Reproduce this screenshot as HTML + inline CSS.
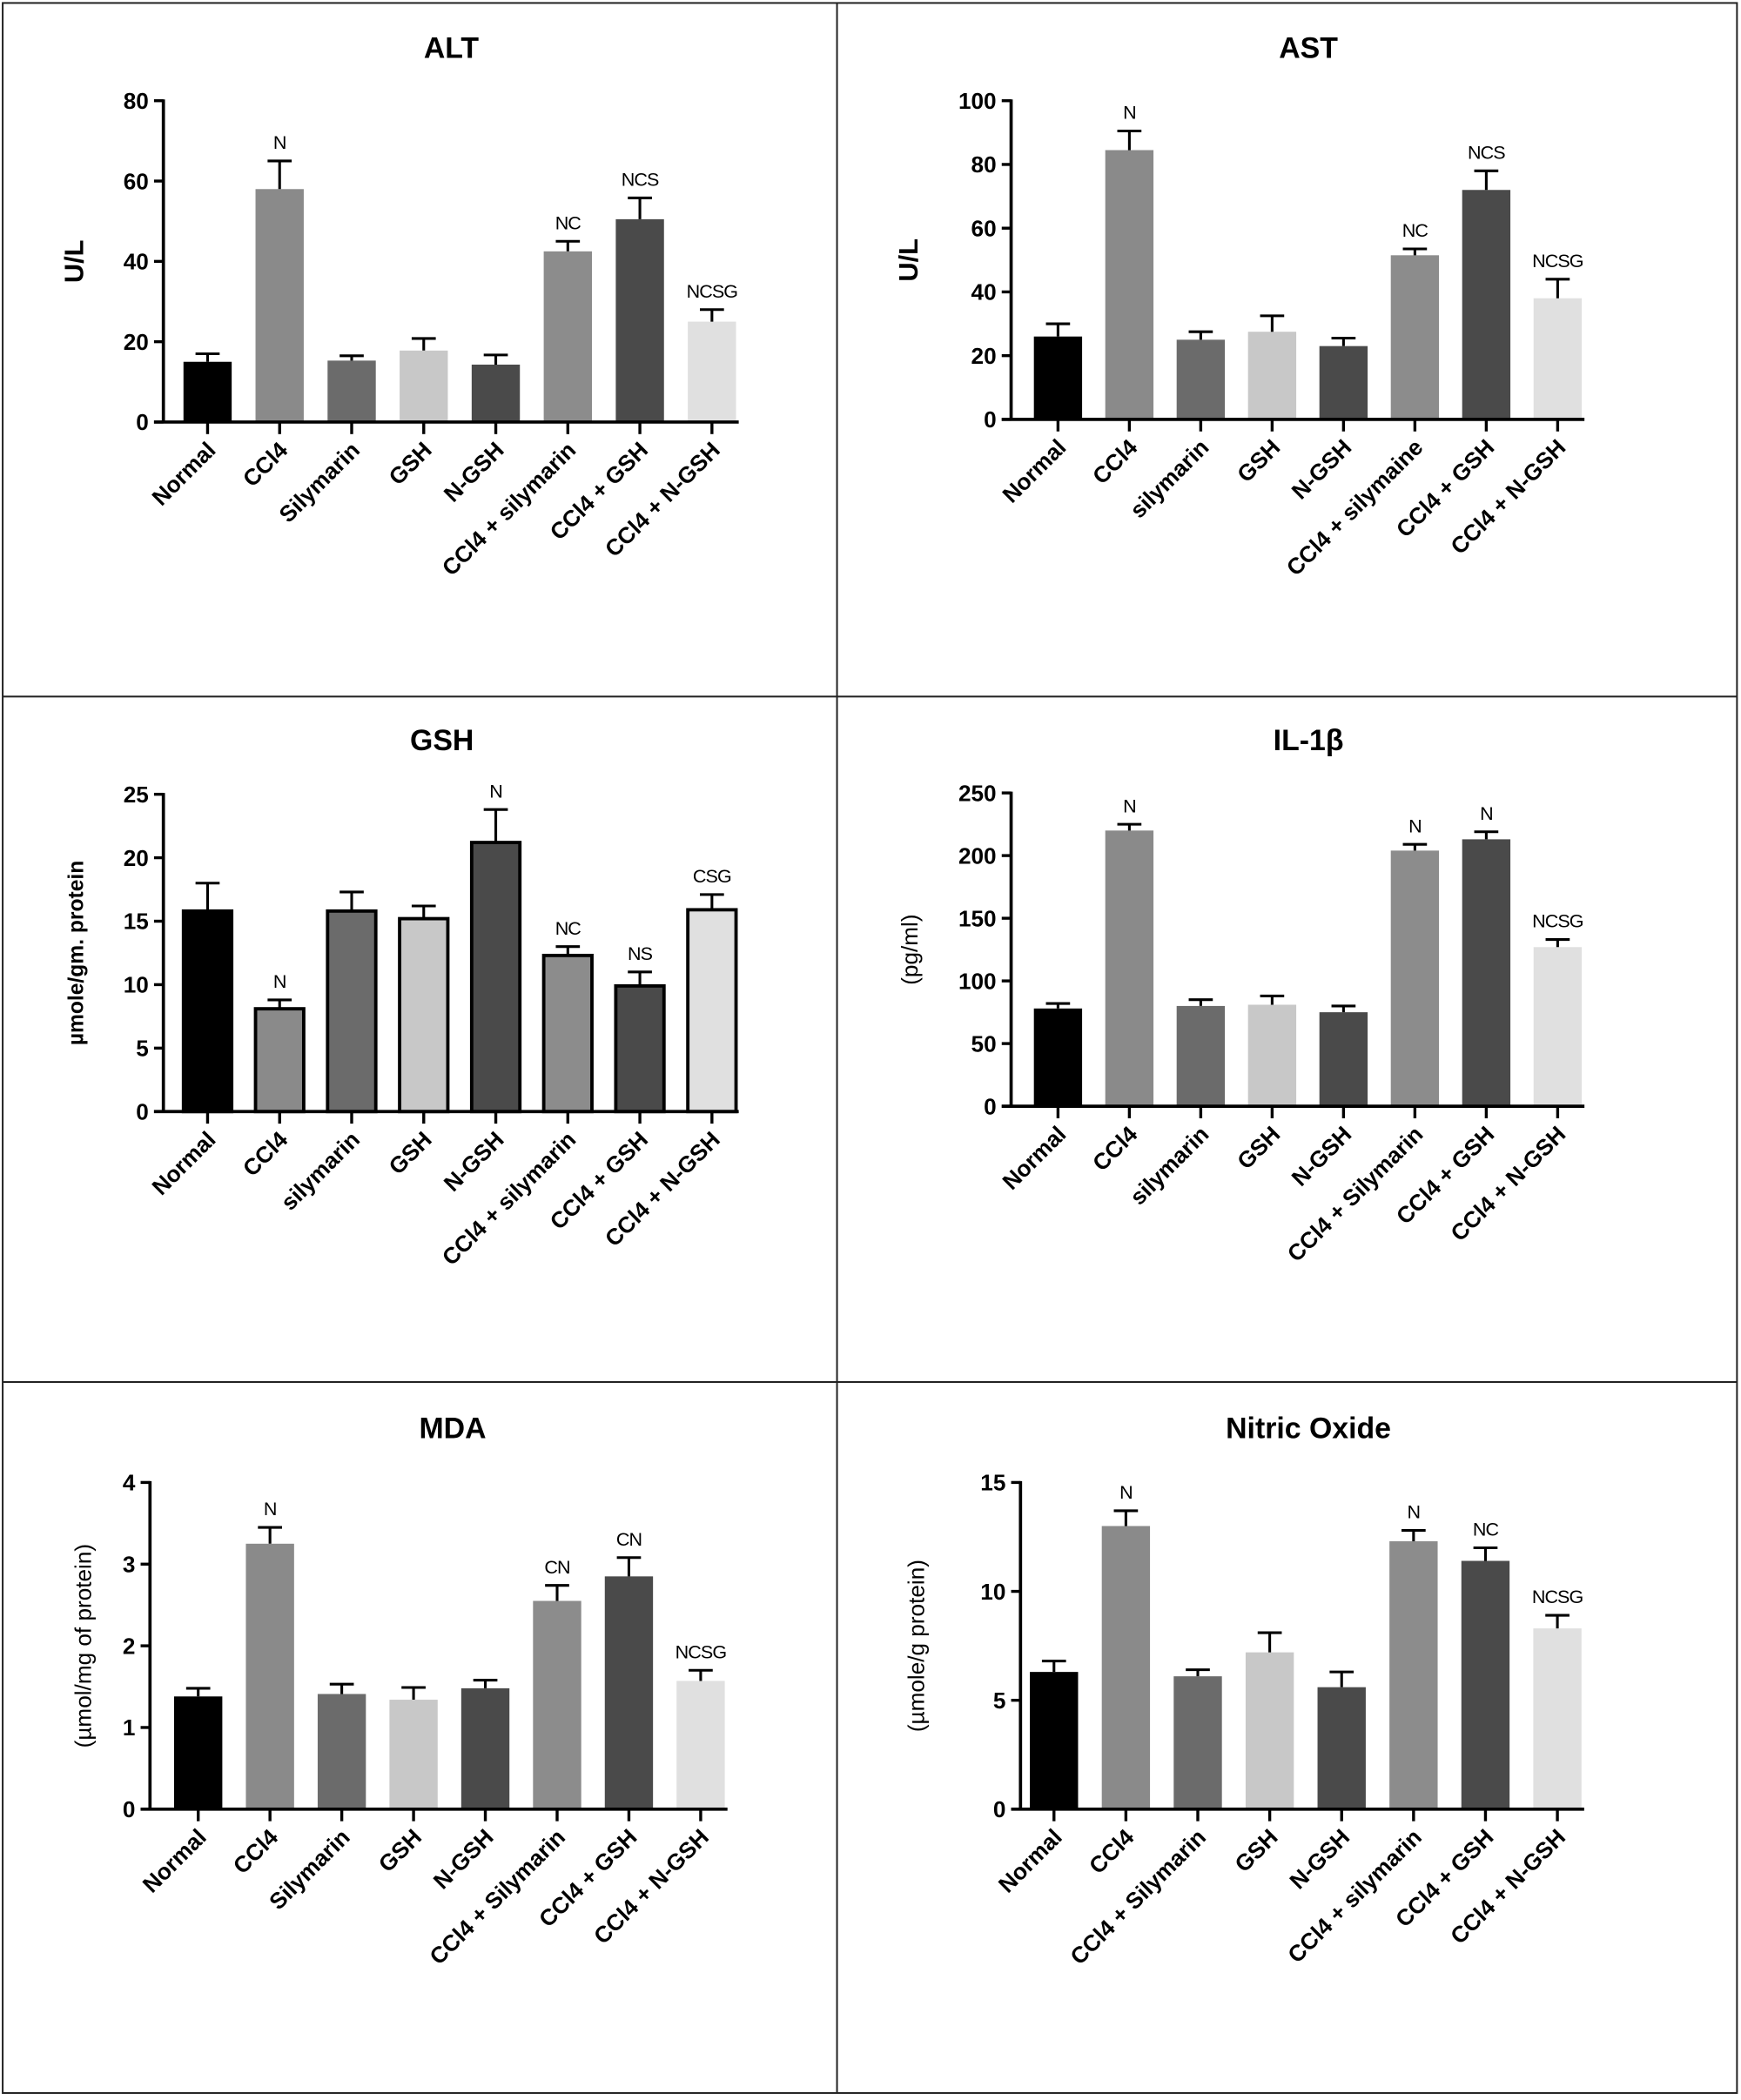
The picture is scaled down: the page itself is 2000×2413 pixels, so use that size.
<!DOCTYPE html>
<html><head><meta charset="utf-8"><style>
html,body{margin:0;padding:0;background:#fff}
svg{display:block}
text{font-family:"Liberation Sans",Arial,sans-serif}
</style></head><body>
<svg id="fig" width="2000" height="2413" viewBox="0 0 1300 1568" xmlns="http://www.w3.org/2000/svg">
<rect x="0" y="0" width="1300" height="1568" fill="#fff"/>
<g stroke="#222" stroke-width="1.3" fill="none">
<rect x="2" y="2" width="1295" height="1561"/>
<line x1="625" y1="2" x2="625" y2="1563"/>
<line x1="2" y1="520" x2="1297" y2="520"/>
<line x1="2" y1="1032" x2="1297" y2="1032"/>
</g>
</svg>
<script>
const altCats=["Normal","CCl4","Silymarin","GSH","N-GSH","CCl4 + silymarin","CCl4 + GSH","CCl4 + N-GSH"];
const altVals=[15,58,15.3,17.8,14.3,42.5,50.5,25];
const altErrs=[2,7,1.2,3,2.4,2.5,5.3,3];
const altAnn=["","N","","","","NC","NCS","NCSG"];
const altTicks=[0,20,40,60,80];
const astCats=["Normal","CCl4","silymarin","GSH","N-GSH","CCl4 + silymaine","CCl4 + GSH","CCl4 + N-GSH"];
const astVals=[26,84.5,25,27.5,23,51.5,72,38];
const astErrs=[4,6,2.5,5,2.5,2,6,6];
const astAnn=["","N","","","","NC","NCS","NCSG"];
const astTicks=[0,20,40,60,80,100];
const gshCats=["Normal","CCl4","silymarin","GSH","N-GSH","CCl4 + silymarin","CCl4 + GSH","CCl4 + N-GSH"];
const gshVals=[15.8,8.1,15.8,15.2,21.2,12.3,9.9,15.9];
const gshErrs=[2.2,0.7,1.5,1,2.6,0.7,1.1,1.2];
const gshAnn=["","N","","","N","NC","NS","CSG"];
const gshTicks=[0,5,10,15,20,25];
const ilCats=["Normal","CCl4","silymarin","GSH","N-GSH","CCl4 + Silymarin","CCl4 + GSH","CCl4 + N-GSH"];
const ilVals=[78,220,80,81,75,204,213,127];
const ilErrs=[4,5,5,7,5,5,6,6];
const ilAnn=["","N","","","","N","N","NCSG"];
const ilTicks=[0,50,100,150,200,250];
const mdaCats=["Normal","CCl4","Silymarin","GSH","N-GSH","CCl4 + Silymarin","CCl4 +  GSH","CCl4 + N-GSH"];
const mdaVals=[1.38,3.25,1.41,1.34,1.48,2.55,2.85,1.57];
const mdaErrs=[0.1,0.2,0.12,0.15,0.1,0.19,0.23,0.13];
const mdaAnn=["","N","","","","CN","CN","NCSG"];
const mdaTicks=[0,1,2,3,4];
const noCats=["Normal","CCl4","CCl4 + Silymarin","GSH","N-GSH","CCl4 + silymarin","CCl4 + GSH","CCl4 + N-GSH"];
const noVals=[6.3,13,6.1,7.2,5.6,12.3,11.4,8.3];
const noErrs=[0.5,0.7,0.3,0.9,0.7,0.5,0.6,0.6];
const noAnn=["","N","","","","N","NC","NCSG"];
const noTicks=[0,5,10,15];

const fills=["#000","#8a8a8a","#6b6b6b","#c8c8c8","#4a4a4a","#8c8c8c","#4a4a4a","#e0e0e0"];
const NS="http://www.w3.org/2000/svg";
const svg=document.getElementById('fig');
function mk(tag,attrs,parent,txt){const e=document.createElementNS(NS,tag);for(const k in attrs)e.setAttribute(k,attrs[k]);if(txt!==undefined)e.textContent=txt;parent.appendChild(e);return e;}

function chart(o){
  const g=mk('g',{},svg);
  
  
  const max=o.ticks[o.ticks.length-1];
  const y=v=>o.y0-(v/max)*(o.y0-o.yTop);
  const x=i=>o.x0+i*o.step;
  const t=mk('text',{x:o.tx,y:o.ty,'text-anchor':'middle','font-size':22,'font-weight':'bold'},g,o.title);
  
  
  const yl=mk('text',{x:0,y:0,'text-anchor':'middle','font-size':o.ylBold?(o.ylSize||18):17,'font-weight':o.ylBold?'bold':'normal',transform:`translate(${o.ylx},${(o.y0+o.yTop)/2}) rotate(-90)`},g,o.ylabel);
  
  
  o.cats.forEach((c,i)=>{
    const cx=x(i),v=o.vals[i],e=o.errs[i],bw=36;
    const b=mk('rect',{x:cx-bw/2,y:y(v),width:bw,height:o.y0-y(v),fill:fills[i],stroke:o.outline?'#000':'none','stroke-width':o.outline?2.5:0},g);
    
    
    const eb=mk('path',{d:`M${cx} ${y(v)}V${y(v+e)}M${cx-9} ${y(v+e)}H${cx+9}`,stroke:'#000','stroke-width':2,fill:'none'},g);
    
    
    if(o.ann[i]){const a=mk('text',{x:cx,y:y(v+e)-9,'text-anchor':'middle','font-size':14,'letter-spacing':'-0.6'},g,o.ann[i]);
      
      }
    const tk=mk('line',{x1:cx,y1:o.y0,x2:cx,y2:o.y0+9,stroke:'#000','stroke-width':2.2},g);
    
    
    const lb=mk('text',{x:0,y:0,'text-anchor':'end','font-size':17,'font-weight':'bold',transform:`translate(${cx+7},${o.y0+22}) rotate(-45)`},g,c);
    
    
  });
  o.ticks.forEach(tv=>{
    const tk=mk('line',{x1:o.ax-7,y1:y(tv),x2:o.ax,y2:y(tv),stroke:'#000','stroke-width':2.2},g);
    
    
    const tl=mk('text',{x:o.ax-11,y:y(tv)+6,'text-anchor':'end','font-size':17,'font-weight':'bold'},g,tv);
    
    
  });
  const ya=mk('line',{x1:o.ax,y1:o.yTop-1,x2:o.ax,y2:o.y0+1,stroke:'#000','stroke-width':2.4},g);
  
  
  const xa=mk('line',{x1:o.ax-7,y1:o.y0,x2:x(7)+20,y2:o.y0,stroke:'#000','stroke-width':2.4},g);
  
  
}
chart({name:'alt-chart',title:'ALT',tx:337,ty:43,ylabel:'U/L',ylBold:true,ylSize:20,ylx:62,ax:122,x0:155,step:53.8,y0:315,yTop:75,ticks:altTicks,cats:altCats,vals:altVals,errs:altErrs,ann:altAnn});
chart({name:'ast-chart',title:'AST',tx:977,ty:43,ylabel:'U/L',ylBold:true,ylSize:20,ylx:685,ax:755,x0:790,step:53.3,y0:313,yTop:75,ticks:astTicks,cats:astCats,vals:astVals,errs:astErrs,ann:astAnn});
chart({name:'gsh-chart',title:'GSH',tx:330,ty:560,ylabel:'µmole/gm. protein',ylBold:true,ylSize:16,ylx:62,ax:122,x0:155,step:53.8,y0:830,yTop:593,ticks:gshTicks,cats:gshCats,vals:gshVals,errs:gshErrs,ann:gshAnn,outline:true});
chart({name:'il1b-chart',title:'IL-1β',tx:977,ty:560,ylabel:'(pg/ml)',ylx:685,ax:755,x0:790,step:53.3,y0:826,yTop:592,ticks:ilTicks,cats:ilCats,vals:ilVals,errs:ilErrs,ann:ilAnn});
chart({name:'mda-chart',title:'MDA',tx:338,ty:1074,ylabel:'(µmol/mg of protein)',ylx:68,ax:112,x0:148,step:53.6,y0:1351,yTop:1107,ticks:mdaTicks,cats:mdaCats,vals:mdaVals,errs:mdaErrs,ann:mdaAnn});
chart({name:'no-chart',title:'Nitric Oxide',tx:977,ty:1074,ylabel:'(µmole/g protein)',ylx:690,ax:762,x0:787,step:53.7,y0:1351,yTop:1107,ticks:noTicks,cats:noCats,vals:noVals,errs:noErrs,ann:noAnn});
</script>
</body></html>
